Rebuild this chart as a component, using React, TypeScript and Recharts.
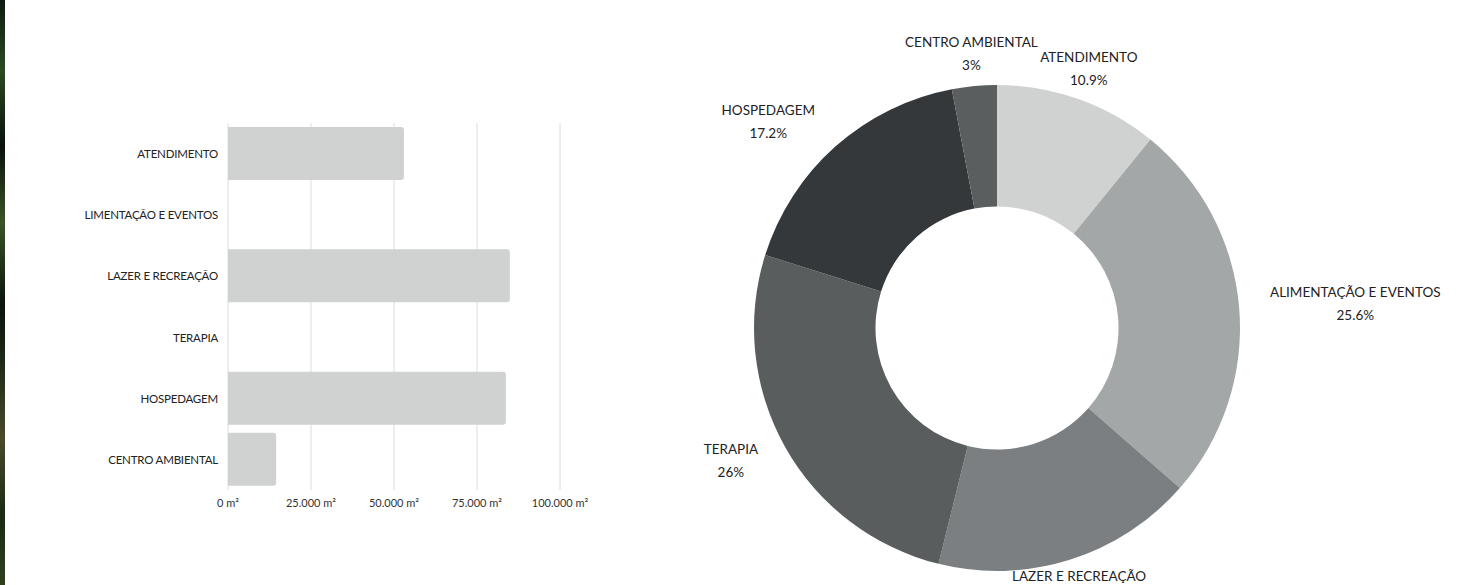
import React from 'react';
import { BarChart, Bar, XAxis, YAxis, CartesianGrid, PieChart, Pie, Cell } from 'recharts';

const CATEGORIES = ['ATENDIMENTO', 'ALIMENTAÇÃO E EVENTOS', 'LAZER E RECREAÇÃO', 'TERAPIA', 'HOSPEDAGEM', 'CENTRO AMBIENTAL'];
const AREAS = [53000, 124600, 84900, 126600, 83700, 14500];
const PIE_COLORS = ['#d0d2d1', '#a4a7a7', '#7c7f81', '#5a5d5e', '#35383a', '#5a5e5f'];
const X_TICKS = [0, 25000, 50000, 75000, 100000];
const AXIS_MAX = 100000;

const FONT = 'Lato, "Open Sans", sans-serif';

// Bars beyond the axis maximum are not drawn (as in the original chart)
const barData = CATEGORIES.map((name, i) => ({ name, value: AREAS[i] <= AXIS_MAX ? AREAS[i] : null }));
const pieData = CATEGORIES.map((name, i) => ({ name, value: AREAS[i] }));

const fmtM2 = (v: number) => `${v.toLocaleString('de-DE')} m²`;

const RAD = Math.PI / 180;

const CategoryTick = (props: any) => {
  const { x, y, payload } = props;
  return (
    <text x={x} y={y} textAnchor="end" dominantBaseline="central" fill="#222" fontSize={11.5} fontFamily={FONT} letterSpacing={-0.2}>
      {payload.value}
    </text>
  );
};

const renderLabel = (props: any) => {
  const { cx, cy, midAngle, outerRadius, percent, index } = props;
  const r = outerRadius + 31;
  const px = cx + r * Math.cos(-midAngle * RAD);
  const py = cy + r * Math.sin(-midAngle * RAD);
  const c = Math.cos(midAngle * RAD);
  const anchor = c > 0.5 ? 'start' : c < -0.5 ? 'end' : 'middle';
  const W = 300;
  const x = anchor === 'start' ? px : anchor === 'end' ? px - W : px - W / 2;
  const justify = anchor === 'start' ? 'flex-start' : anchor === 'end' ? 'flex-end' : 'center';
  const pct = Math.round(percent * 1000) / 10;
  return (
    <foreignObject key={`lbl-${index}`} x={x} y={py - 25} width={W} height={48} style={{ overflow: 'visible' }}>
      <div style={{ width: W, height: 48, display: 'flex', justifyContent: justify, alignItems: 'center' }}>
        <div style={{ textAlign: 'center', fontFamily: FONT, fontSize: 13.5, lineHeight: '23px', color: '#222', whiteSpace: 'nowrap' }}>
          <div>{CATEGORIES[index]}</div>
          <div>{`${pct}%`}</div>
        </div>
      </div>
    </foreignObject>
  );
};

export default function App() {
  return (
    <div style={{ position: 'absolute', left: 0, top: 0, width: 1476, height: 585, background: '#fff', overflow: 'hidden' }}>
      <div style={{ position: 'absolute', left: 0, top: 0, width: 5, height: 585, background: 'linear-gradient(180deg, #0d1a10 0%, #2c4a22 12%, #0a120c 25%, #3a5426 38%, #0b140d 52%, #1e2a18 62%, #4a4a2a 75%, #1a2a14 88%, #30401e 100%)' }} />
      <div style={{ position: 'absolute', left: 85, top: 0, width: 520, height: 585, overflow: 'hidden' }}>
        <BarChart
          width={520}
          height={585}
          layout="vertical"
          data={barData}
          margin={{ top: 123, right: 45, bottom: 65, left: 0 }}
        >
          <CartesianGrid horizontal={false} stroke="#dcdcdc" />
          <XAxis
            type="number"
            domain={[0, AXIS_MAX]}
            ticks={X_TICKS}
            tickFormatter={fmtM2}
            axisLine={false}
            tickLine={false}
            tickSize={0}
            tickMargin={9}
            height={30}
            interval={0}
            tick={{ fill: '#333', fontSize: 11, fontFamily: FONT }}
          />
          <YAxis
            type="category"
            dataKey="name"
            width={143}
            axisLine={false}
            tickLine={false}
            tickSize={0}
            tickMargin={10}
            interval={0}
            tick={<CategoryTick />}
          />
          <Bar dataKey="value" fill="#d0d2d1" barSize={53} radius={[0, 3, 3, 0]} isAnimationActive={false} />
        </BarChart>
      </div>
      <div style={{ position: 'absolute', left: 640, top: 0, width: 836, height: 585 }}>
        <PieChart width={836} height={585} margin={{ top: 0, right: 0, bottom: 0, left: 0 }}>
          <Pie
            data={pieData}
            dataKey="value"
            nameKey="name"
            cx={357}
            cy={328}
            outerRadius={243}
            innerRadius={121.5}
            startAngle={90}
            endAngle={-270}
            stroke="none"
            labelLine={false}
            label={renderLabel}
            isAnimationActive={false}
          >
            {pieData.map((d, i) => (
              <Cell key={d.name} fill={PIE_COLORS[i]} />
            ))}
          </Pie>
        </PieChart>
      </div>
    </div>
  );
}
